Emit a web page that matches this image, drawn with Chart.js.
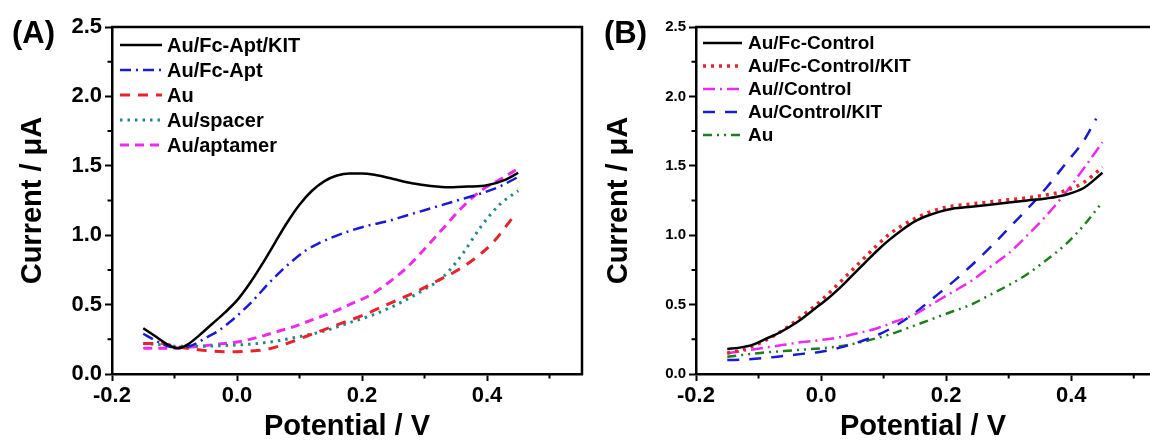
<!DOCTYPE html>
<html>
<head>
<meta charset="utf-8">
<script src="https://cdn.jsdelivr.net/npm/chart.js@4.4.0/dist/chart.umd.min.js"></script>
<style>
  body { margin: 0; background: #fff; }
  #wrap { position: relative; width: 1150px; height: 441px; overflow: hidden; }
  canvas { position: absolute; top: 0; }
</style>
</head>
<body>
<div id="wrap">
  <canvas id="chartA" width="590" height="441" style="left:0"></canvas>
  <canvas id="chartB" width="560" height="441" style="left:590px"></canvas>
</div>
<script>
// ---- panel A : potential (V) / current (uA) ----
const kitV = [-0.15,-0.13,-0.11,-0.095,-0.08,-0.06,-0.04,-0.02,0,0.02,0.04,0.06,0.08,0.10,0.12,0.14,0.16,0.18,0.20,0.22,0.25,0.28,0.31,0.34,0.37,0.40,0.43,0.45];
const kitI = [0.33,0.27,0.21,0.185,0.21,0.28,0.36,0.44,0.53,0.65,0.79,0.94,1.09,1.22,1.32,1.39,1.43,1.445,1.445,1.435,1.405,1.375,1.355,1.345,1.35,1.36,1.40,1.45];

const aptV = [-0.15,-0.13,-0.11,-0.09,-0.07,-0.05,-0.03,-0.01,0.01,0.03,0.05,0.07,0.09,0.11,0.13,0.15,0.18,0.21,0.24,0.27,0.30,0.33,0.36,0.39,0.42,0.45];
const aptI = [0.29,0.24,0.20,0.19,0.21,0.26,0.31,0.38,0.46,0.55,0.65,0.74,0.82,0.89,0.94,0.98,1.03,1.07,1.10,1.14,1.18,1.22,1.26,1.30,1.35,1.42];

const auV = [-0.15,-0.12,-0.10,-0.07,-0.04,-0.01,0.02,0.05,0.08,0.11,0.14,0.17,0.20,0.23,0.26,0.29,0.32,0.35,0.38,0.41,0.445];
const auI = [0.22,0.22,0.20,0.18,0.165,0.16,0.165,0.18,0.22,0.27,0.32,0.37,0.42,0.48,0.54,0.60,0.67,0.74,0.83,0.95,1.15];

const spacerV = [-0.15,-0.12,-0.10,-0.06,-0.02,0.02,0.06,0.10,0.14,0.18,0.22,0.26,0.30,0.33,0.36,0.39,0.42,0.45];
const spacerI = [0.22,0.21,0.20,0.20,0.205,0.215,0.235,0.27,0.31,0.37,0.43,0.51,0.61,0.70,0.86,1.06,1.22,1.32];

const aptamerV = [-0.15,-0.12,-0.09,-0.06,-0.03,0,0.03,0.06,0.09,0.12,0.15,0.18,0.21,0.24,0.27,0.30,0.33,0.36,0.39,0.42,0.45];
const aptamerI = [0.185,0.185,0.19,0.20,0.215,0.23,0.26,0.30,0.34,0.39,0.44,0.50,0.56,0.65,0.76,0.90,1.05,1.20,1.32,1.40,1.48];

// ---- panel B ----
const fcV = [-0.15,-0.13,-0.11,-0.09,-0.07,-0.05,-0.03,-0.01,0.01,0.03,0.05,0.07,0.09,0.11,0.13,0.15,0.17,0.19,0.21,0.24,0.27,0.30,0.33,0.36,0.39,0.42,0.45];
const fcI = [0.18,0.19,0.21,0.25,0.29,0.34,0.40,0.47,0.54,0.62,0.71,0.80,0.89,0.97,1.04,1.10,1.14,1.17,1.19,1.205,1.22,1.235,1.25,1.265,1.29,1.34,1.45];
const fcKitI = [0.15,0.17,0.20,0.24,0.29,0.35,0.42,0.49,0.57,0.66,0.75,0.84,0.93,1.01,1.07,1.12,1.16,1.19,1.21,1.225,1.24,1.255,1.27,1.29,1.32,1.38,1.49];

const ctrlV = [-0.15,-0.12,-0.09,-0.06,-0.03,0,0.03,0.06,0.09,0.12,0.15,0.18,0.21,0.24,0.27,0.30,0.33,0.36,0.39,0.42,0.45];
const ctrlI = [0.15,0.17,0.19,0.21,0.23,0.245,0.265,0.295,0.33,0.38,0.43,0.51,0.59,0.67,0.77,0.87,1.00,1.14,1.30,1.48,1.67];

const ctrlKitV = [-0.15,-0.12,-0.09,-0.06,-0.03,0,0.03,0.06,0.09,0.12,0.15,0.18,0.21,0.24,0.27,0.30,0.33,0.36,0.39,0.42,0.44];
const ctrlKitI = [0.10,0.105,0.115,0.13,0.145,0.16,0.19,0.23,0.28,0.35,0.44,0.55,0.66,0.78,0.91,1.05,1.19,1.34,1.51,1.68,1.84];

const bareV = [-0.15,-0.12,-0.09,-0.06,-0.03,0,0.03,0.06,0.09,0.12,0.15,0.18,0.21,0.24,0.27,0.30,0.33,0.36,0.39,0.42,0.45];
const bareI = [0.125,0.14,0.155,0.165,0.175,0.185,0.20,0.225,0.26,0.30,0.35,0.40,0.45,0.50,0.57,0.64,0.72,0.82,0.93,1.07,1.24];

const yTicks = [0, 0.5, 1.0, 1.5, 2.0, 2.5];

const FONT = 'Arial, "Liberation Sans", sans-serif';
Chart.defaults.font.family = FONT;
Chart.defaults.color = '#000';

const pts = (xs, ys) => xs.map((x, i) => ({ x, y: ys[i] }));

function line(label, xs, ys, color, dash, width) {
  return {
    label, data: pts(xs, ys),
    borderColor: color, backgroundColor: color,
    borderDash: dash, borderWidth: width || 2.5,
    showLine: true, pointRadius: 0,
    cubicInterpolationMode: 'monotone'
  };
}

// frame, minor ticks, legend and panel letter
function decor(cfg) {
  return {
    id: 'decor',
    afterDraw(chart) {
      const ctx = chart.ctx;
      const { left, right, top, bottom } = chart.chartArea;
      ctx.save();
      ctx.strokeStyle = '#000';
      ctx.lineWidth = 2.5;
      ctx.beginPath();
      ctx.moveTo(left - 1, top);
      ctx.lineTo(right, top);
      if (cfg.rightBorder) ctx.lineTo(right, bottom + 1);
      ctx.stroke();

      // minor ticks halfway between the major ones
      ctx.lineWidth = 2;
      const xs = chart.scales.x, ys = chart.scales.y;
      const xt = xs.ticks.map(t => t.value), yt = ys.ticks.map(t => t.value);
      const xStep = xt[1] - xt[0], yStep = yt[1] - yt[0];
      ctx.beginPath();
      xt.forEach(v => {
        const m = v + xStep / 2;
        if (m < xs.max) {
          const px = xs.getPixelForValue(m);
          ctx.moveTo(px, bottom); ctx.lineTo(px, bottom + 4.5);
        }
      });
      yt.forEach(v => {
        const m = v + yStep / 2;
        if (m < ys.max) {
          const py = ys.getPixelForValue(m);
          ctx.moveTo(left, py); ctx.lineTo(left - 4.5, py);
        }
      });
      ctx.stroke();

      // legend
      const lg = cfg.legend;
      ctx.font = 'bold ' + lg.size + 'px ' + FONT;
      ctx.textBaseline = 'middle';
      ctx.textAlign = 'left';
      chart.data.datasets.forEach((ds, i) => {
        const y = lg.y0 + i * lg.dy;
        ctx.strokeStyle = ds.borderColor;
        ctx.lineWidth = ds.borderWidth;
        ctx.setLineDash(ds.borderDash || []);
        ctx.beginPath();
        ctx.moveTo(lg.x0, y); ctx.lineTo(lg.x1, y);
        ctx.stroke();
        ctx.setLineDash([]);
        ctx.fillStyle = '#000';
        ctx.fillText(ds.label, lg.tx, y + 1);
      });

      // panel letter
      ctx.font = 'bold 31px ' + FONT;
      ctx.textBaseline = 'alphabetic';
      ctx.fillText(cfg.letter, cfg.letterX, 43);
      ctx.restore();
    }
  };
}

function makeChart(id, datasets, o) {
  const fmt = v => (Math.abs(v) < 1e-9 ? '0.0' : v.toFixed(1));
  return new Chart(document.getElementById(id), {
    type: 'scatter',
    data: { datasets },
    options: {
      responsive: false,
      animation: false,
      layout: { padding: { top: 27, right: o.padRight, bottom: 0, left: 0 } },
      plugins: { legend: { display: false }, tooltip: { enabled: false } },
      scales: {
        x: {
          type: 'linear', min: -0.2, max: o.xMax,
          afterFit: s => { s.height = 67; },
          ticks: { stepSize: 0.2, includeBounds: false, padding: 2, callback: fmt,
                   font: { size: 22, weight: 'bold' }, maxRotation: 0 },
          grid: { drawOnChartArea: false, tickLength: 7, tickWidth: 2, tickColor: '#000' },
          border: { display: true, width: 2.5, color: '#000' },
          title: { display: true, text: 'Potential / V',
                   font: { size: 29, weight: 'bold', lineHeight: 1 },
                   padding: { top: 0, bottom: 0 } }
        },
        y: {
          type: 'linear', min: yTicks[0], max: yTicks[yTicks.length - 1],
          afterFit: s => { s.width = o.yWidth; },
          ticks: { stepSize: 0.5, includeBounds: false, padding: 3, callback: fmt,
                   font: { size: o.yTickSize, weight: 'bold' } },
          grid: { drawOnChartArea: false, tickLength: 7, tickWidth: 2, tickColor: '#000' },
          border: { display: true, width: 2.5, color: '#000' },
          title: { display: true, text: 'Current / μA',
                   font: { size: 29, weight: 'bold', lineHeight: 1 },
                   padding: { top: o.yTitlePad, bottom: 0 } }
        }
      }
    },
    plugins: [decor(o.decor)]
  });
}

makeChart('chartA', [
  line('Au/Fc-Apt/KIT', kitV, kitI, '#000000', []),
  line('Au/Fc-Apt', aptV, aptI, '#1a1ad6', [11, 5, 2, 5]),
  line('Au', auV, auI, '#e8232a', [10, 8], 3),
  line('Au/spacer', spacerV, spacerI, '#21898a', [2.5, 5], 3),
  line('Au/aptamer', aptamerV, aptamerI, '#ee2aee', [9, 6], 3)
], {
  xMax: 0.552, padRight: 8, yWidth: 112, yTickSize: 22, yTitlePad: 18,
  decor: { rightBorder: true, letter: '(A)', letterX: 12,
           legend: { x0: 120, x1: 162, tx: 167, y0: 45, dy: 25, size: 20 } }
});

makeChart('chartB', [
  line('Au/Fc-Control', fcV, fcI, '#000000', []),
  line('Au/Fc-Control/KIT', fcV, fcKitI, '#e8232a', [3, 5], 3.5),
  line('Au//Control', ctrlV, ctrlI, '#ee2aee', [12, 5, 2, 5]),
  line('Au/Control/KIT', ctrlKitV, ctrlKitI, '#1a1ad6', [12, 10]),
  line('Au', bareV, bareI, '#1e7d1e', [9, 5, 2, 5, 2, 5])
], {
  xMax: 0.526, padRight: 0, yWidth: 106, yTickSize: 15, yTitlePad: 14,
  decor: { rightBorder: false, letter: '(B)', letterX: 14,
           legend: { x0: 113, x1: 152, tx: 158, y0: 43, dy: 23, size: 19 } }
});
</script>
</body>
</html>
